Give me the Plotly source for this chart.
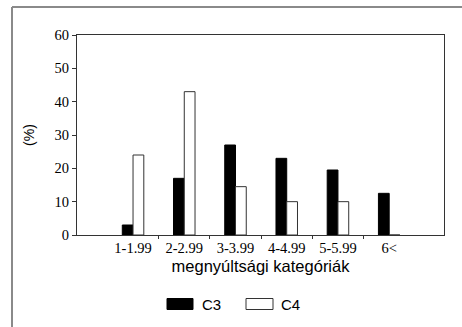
import plotly.graph_objects as go

# Elongation categories and the share of each class (%)
categories = ["1-1.99", "2-2.99", "3-3.99", "4-4.99", "5-5.99", "6<"]
positions = [1, 2, 3, 4, 5, 6]
c3_values = [3, 17, 27, 23, 19.5, 12.5]
c4_values = [24, 43, 14.5, 10, 10, 0]
y_ticks = [0, 10, 20, 30, 40, 50, 60]

AXIS_COLOR = "#333333"
FRAME_COLOR = "#8a8a8a"
SERIF = "Liberation Serif, Times New Roman, serif"
SANS = "Liberation Sans, Arial, sans-serif"

fig = go.Figure()
fig.add_trace(go.Bar(
    x=positions, y=c3_values, name="C3",
    marker=dict(color="#000000", line=dict(color="#000000", width=1)),
    showlegend=False,
))
fig.add_trace(go.Bar(
    x=positions, y=c4_values, name="C4",
    marker=dict(color="#ffffff", line=dict(color=AXIS_COLOR, width=1)),
    showlegend=False,
))

fig.update_layout(
    width=462, height=327,
    margin=dict(l=77, r=18, t=35, b=91.5),
    paper_bgcolor="#ffffff", plot_bgcolor="#ffffff",
    barmode="group", bargap=0.58, bargroupgap=0,
    font=dict(family=SANS, color="#000000"),
    xaxis=dict(
        range=[-0.094, 7.07],
        tickmode="array", tickvals=positions, ticktext=categories,
        ticks="", showgrid=False, zeroline=False,
        showline=True, linecolor=AXIS_COLOR, linewidth=1, mirror=True,
        tickfont=dict(family=SERIF, size=14.5, color="#000000"),
        minor=dict(tickmode="array", tickvals=[1.5, 2.5, 3.5, 4.5, 5.5],
                   ticks="outside", ticklen=3, tickcolor=AXIS_COLOR, tickwidth=1),
        title=dict(text="megnyúltsági kategóriák", font=dict(family=SANS, size=16.5),
                   standoff=5),
    ),
    yaxis=dict(
        range=[0, 60],
        tickmode="array", tickvals=y_ticks,
        ticks="outside", ticklen=4, tickcolor=AXIS_COLOR,
        showgrid=False, zeroline=False,
        showline=True, linecolor=AXIS_COLOR, linewidth=1, mirror=True,
        tickfont=dict(family=SERIF, size=14.5, color="#000000"),
        title=dict(text="(%)", font=dict(family=SANS, size=14), standoff=16),
    ),
)

# Outer frame around the figure (left and top edges)
frame = dict(type="line", xref="paper", yref="paper",
             xsizemode="pixel", ysizemode="pixel", xanchor=0, yanchor=1,
             line=dict(color=FRAME_COLOR, width=2))
fig.add_shape(**frame, x0=-65, x1=-65, y0=28, y1=-330)
fig.add_shape(**frame, x0=-65, x1=400, y0=28, y1=28)

# Legend: wide swatches with labels below the axis title
swatch = dict(type="rect", xref="paper", yref="paper",
              xsizemode="pixel", ysizemode="pixel", xanchor=0, yanchor=0)
fig.add_shape(**swatch, x0=90, x1=116, y0=-63.5, y1=-74.5,
              fillcolor="#000000", line=dict(color="#000000", width=1))
fig.add_shape(**swatch, x0=169, x1=196, y0=-63.5, y1=-74.5,
              fillcolor="#ffffff", line=dict(color=AXIS_COLOR, width=1))
for label, shift in [("C3", 123), ("C4", 202)]:
    fig.add_annotation(text=label, xref="paper", yref="paper", x=0, y=0,
                       xshift=shift, yshift=-69, xanchor="left", yanchor="middle",
                       showarrow=False, font=dict(family=SANS, size=15, color="#000000"))

fig.write_html("out.html")
